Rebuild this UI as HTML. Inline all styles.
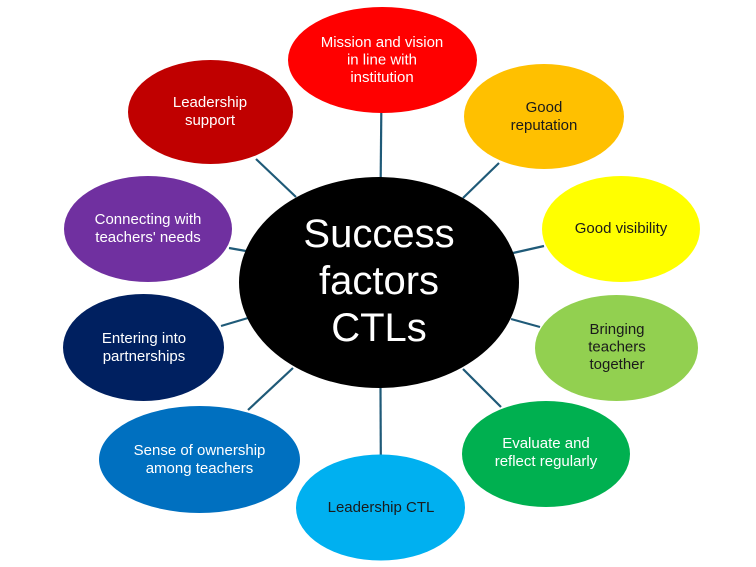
<!DOCTYPE html>
<html><head><meta charset="utf-8"><style>
html,body{margin:0;padding:0;background:#fff;}
svg{display:block;}
text{font-family:"Liberation Sans",Arial,sans-serif;font-size:15px;text-anchor:middle;}
.w{fill:#fff;}
.k{fill:#1a1a1a;}
</style></head><body>
<svg width="756" height="567" viewBox="0 0 756 567" xmlns="http://www.w3.org/2000/svg">
<g stroke="#1F5A78" stroke-width="2.2" fill="none">
<line x1="256" y1="159" x2="296" y2="197"/>
<line x1="381.3" y1="112" x2="380.7" y2="178"/>
<line x1="499" y1="163" x2="463" y2="198"/>
<line x1="544" y1="246" x2="513" y2="253"/>
<line x1="540" y1="327" x2="511" y2="319"/>
<line x1="501" y1="407" x2="463" y2="369"/>
<line x1="380.5" y1="388" x2="380.8" y2="455"/>
<line x1="248" y1="410" x2="293" y2="368"/>
<line x1="221" y1="326" x2="248" y2="318"/>
<line x1="229" y1="248" x2="246" y2="251"/>
</g>
<ellipse cx="379" cy="282.5" rx="140" ry="105.5" fill="#000"/>
<ellipse cx="382.5" cy="60" rx="94.5" ry="53" fill="#FF0000"/>
<ellipse cx="210.5" cy="112" rx="82.5" ry="52" fill="#C00000"/>
<ellipse cx="544" cy="116.5" rx="80" ry="52.5" fill="#FFC000"/>
<ellipse cx="621" cy="229" rx="79" ry="53" fill="#FFFF00"/>
<ellipse cx="148" cy="229" rx="84" ry="53" fill="#7030A0"/>
<ellipse cx="143.5" cy="347.5" rx="80.5" ry="53.5" fill="#002060"/>
<ellipse cx="616.5" cy="348" rx="81.5" ry="53" fill="#92D050"/>
<ellipse cx="546" cy="454" rx="84" ry="53" fill="#00B050"/>
<ellipse cx="199.5" cy="459.5" rx="100.5" ry="53.5" fill="#0070C0"/>
<ellipse cx="380.5" cy="507.5" rx="84.5" ry="53" fill="#00B0F0"/>

<g class="w" style="font-size:40px">
<text x="379" y="247" class="w" style="font-size:40px">Success</text>
<text x="379" y="294" class="w" style="font-size:40px">factors</text>
<text x="379" y="341" class="w" style="font-size:40px">CTLs</text>
</g>

<text x="382" y="47" class="w">Mission and vision</text>
<text x="382" y="64.5" class="w">in line with</text>
<text x="382" y="82" class="w">institution</text>

<text x="210" y="107" class="w">Leadership</text>
<text x="210" y="125" class="w">support</text>

<text x="544" y="112" class="k">Good</text>
<text x="544" y="130" class="k">reputation</text>

<text x="621" y="233" class="k">Good visibility</text>

<text x="148" y="224" class="w">Connecting with</text>
<text x="148" y="242" class="w">teachers' needs</text>

<text x="144" y="343" class="w">Entering into</text>
<text x="144" y="361" class="w">partnerships</text>

<text x="617" y="334" class="k">Bringing</text>
<text x="617" y="351.5" class="k">teachers</text>
<text x="617" y="369" class="k">together</text>

<text x="546" y="448" class="w">Evaluate and</text>
<text x="546" y="466" class="w">reflect regularly</text>

<text x="199.5" y="455" class="w">Sense of ownership</text>
<text x="199.5" y="473" class="w">among teachers</text>

<text x="381" y="512" class="k">Leadership CTL</text>
</svg>
</body></html>
